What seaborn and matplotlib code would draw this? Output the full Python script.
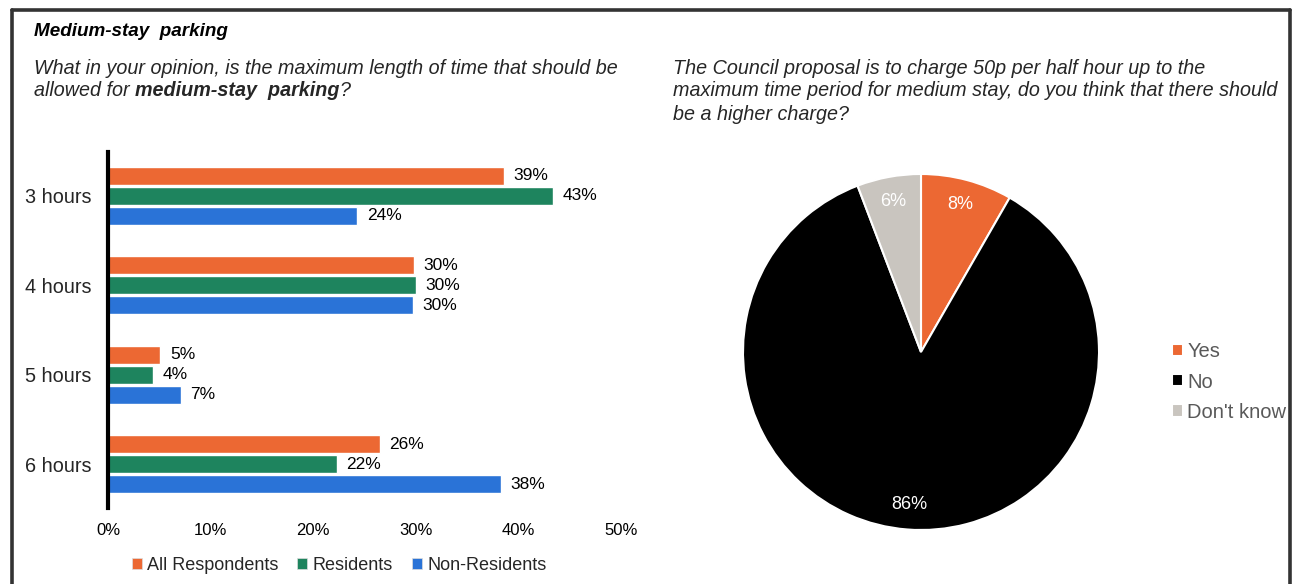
import matplotlib
matplotlib.use("Agg")
import matplotlib.pyplot as plt
from matplotlib.patches import Rectangle
from matplotlib.lines import Line2D
import seaborn as sns
import pandas as pd

categories = ["3 hours", "4 hours", "5 hours", "6 hours"]
series = ["All Respondents", "Residents", "Non-Residents"]
all_resp = [38.6, 29.8, 5.1, 26.5]
residents = [43.4, 30.0, 4.4, 22.3]
non_res = [24.3, 29.7, 7.1, 38.3]
x_ticks = [0, 10, 20, 30, 40, 50]

pie_labels = ["Yes", "No", "Don't know"]
pie_values = [8.3, 85.9, 5.8]

bar_colors = ["#EC6833", "#1E845E", "#2A73D7"]
pie_colors = ["#EC6833", "#000000", "#C9C5BF"]

sns.set_theme(style="white")
plt.rcParams["font.family"] = ["Liberation Sans", "DejaVu Sans"]

rows = []
for s, vals in zip(series, [all_resp, residents, non_res]):
    for c, v in zip(categories, vals):
        rows.append({"cat": c, "series": s, "val": v})
df = pd.DataFrame(rows)

fig = plt.figure(figsize=(12.93, 5.84), dpi=100)

# frame
fig.add_artist(Line2D([12/1293, 1290/1293], [1-10/584, 1-10/584], color="#333333", lw=2.6, transform=fig.transFigure))
fig.add_artist(Line2D([12/1293, 12/1293], [0, 1-10/584], color="#333333", lw=2.6, transform=fig.transFigure))
fig.add_artist(Line2D([1290/1293, 1290/1293], [0, 1-10/584], color="#333333", lw=2.6, transform=fig.transFigure))

QF = 14.2
# texts
fig.text(34/1293, 1-32/584, "Medium-stay  parking", fontsize=13.6, fontweight="bold", style="italic", va="center", color="#000000")
fig.text(34/1293, 1-68/584, "What in your opinion, is the maximum length of time that should be", fontsize=QF, style="italic", va="center")
t = fig.text(34/1293, 1-90/584, "allowed for ", fontsize=QF, style="italic", va="center")
fig.canvas.draw()
r = fig.canvas.get_renderer()
bb = t.get_window_extent(r)
t2 = fig.text(bb.x1/1293, 1-90/584, "medium-stay  parking", fontsize=QF, style="italic", fontweight="bold", va="center")
bb2 = t2.get_window_extent(r)
fig.text(bb2.x1/1293, 1-90/584, "?", fontsize=QF, style="italic", va="center")

for i, line in enumerate(["The Council proposal is to charge 50p per half hour up to the",
                          "maximum time period for medium stay, do you think that there should",
                          "be a higher charge?"]):
    fig.text(673/1293, 1-(68+23*i)/584, line, fontsize=QF, style="italic", va="center")

# bar chart
ax = fig.add_axes([108/1293, 1-508/584, 513/1293, 356/584])
sns.barplot(data=df, y="cat", x="val", hue="series", order=categories, hue_order=series,
            palette=bar_colors, orient="h", width=0.675, gap=0.1, ax=ax, legend=False,
            saturation=1, errorbar=None)
ax.set_xlim(0, 50)
ax.set_ylim(3.49, -0.49)
ax.set_xticks(x_ticks)
ax.set_xticklabels([f"{v}%" for v in x_ticks], fontsize=12, color="#000000")
ax.tick_params(axis="x", length=0, pad=11)
ax.tick_params(axis="y", length=0, pad=12, labelsize=14.3)
ax.set_xlabel("")
ax.set_ylabel("")
for sp in ["top", "right", "bottom"]:
    ax.spines[sp].set_visible(False)
ax.spines["left"].set_color("#000000")
ax.spines["left"].set_linewidth(3)
for cont in ax.containers:
    ax.bar_label(cont, labels=[f"{round(v)}%" for v in cont.datavalues], padding=7, fontsize=12.5, color="#000000")

handles = [Rectangle((0, 0), 1, 1, facecolor=c, edgecolor="#dddddd", linewidth=0.5) for c in bar_colors]
fig.legend(handles, series, loc="center", bbox_to_anchor=(339/1293, 1-565/584), ncol=3, frameon=False,
           fontsize=13.0, handlelength=0.55, handleheight=0.55, handletextpad=0.3, columnspacing=1.05,
           labelcolor="#262626", borderpad=0, borderaxespad=0)

# pie
pax = fig.add_axes([(921-178)/1293, 1-(352+178)/584, 356/1293, 356/584])
wedges, texts, autotexts = pax.pie(pie_values, colors=pie_colors, startangle=90, counterclock=False,
                                   autopct=lambda p: f"{round(p)}%", pctdistance=0.86,
                                   wedgeprops=dict(edgecolor="white", linewidth=1.5),
                                   textprops=dict(color="white", fontsize=13))
pax.set_xlim(-1.0, 1.0)
pax.set_ylim(-1.0, 1.0)
pax.set_aspect("equal")
pax.legend(wedges, pie_labels, loc="center left", bbox_to_anchor=(1172/1293, 1-382/584),
           bbox_transform=fig.transFigure, frameon=False, fontsize=14.5, handlelength=0.55,
           handleheight=0.55, handletextpad=0.2, labelspacing=0.55, labelcolor="#595959",
           borderpad=0, borderaxespad=0)

fig.savefig("out.png", dpi=100, facecolor="white")
